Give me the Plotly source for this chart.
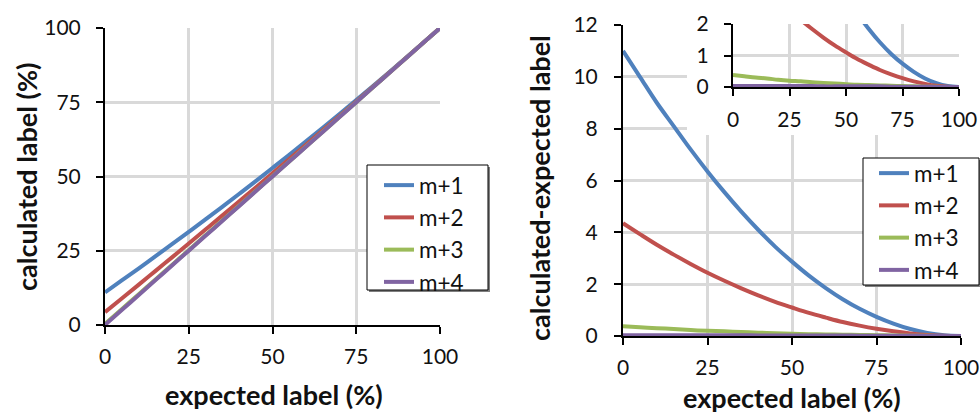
import plotly.graph_objects as go

# expected label (%)
expected = [0, 5, 10, 15, 20, 25, 30, 35, 40, 45, 50, 55, 60, 65, 70, 75, 80, 85, 90, 95, 100]

# calculated - expected label, per isotopologue
series_names = ["m+1", "m+2", "m+3", "m+4"]
diff_m1 = [11.0, 10.0, 9.0, 8.1, 7.2, 6.35, 5.55, 4.8, 4.1, 3.45, 2.87, 2.33, 1.85, 1.42, 1.05, 0.74, 0.48, 0.27, 0.12, 0.03, 0.0]
diff_m2 = [4.35, 3.93, 3.52, 3.14, 2.78, 2.44, 2.13, 1.84, 1.57, 1.32, 1.10, 0.89, 0.71, 0.54, 0.40, 0.28, 0.18, 0.10, 0.04, 0.01, 0.0]
diff_m3 = [0.38, 0.34, 0.30, 0.27, 0.23, 0.20, 0.18, 0.15, 0.13, 0.11, 0.09, 0.07, 0.06, 0.05, 0.04, 0.03, 0.02, 0.01, 0.005, 0.0, 0.0]
diff_m4 = [0.03, 0.03, 0.03, 0.03, 0.03, 0.03, 0.03, 0.03, 0.02, 0.02, 0.02, 0.02, 0.02, 0.02, 0.01, 0.01, 0.01, 0.01, 0.0, 0.0, 0.0]

x_ticks = [0, 25, 50, 75, 100]
left_y_ticks = [0, 25, 50, 75, 100]
right_y_ticks = [0, 2, 4, 6, 8, 10, 12]
inset_y_ticks = [0, 1, 2]

colors = ["#4F81BD", "#C0504D", "#9BBB59", "#8064A2"]
diffs = [diff_m1, diff_m2, diff_m3, diff_m4]

W, H = 980, 414
FONT = "Lato"
GRID = "#d9d9d9"
TXT = "#111111"


def px_x(p):
    return p / W


def px_y(p):
    return 1 - p / H


fig = go.Figure()

# left panel: calculated vs expected label
for name, col, d in zip(series_names, colors, diffs):
    calc = [e + v for e, v in zip(expected, d)]
    fig.add_trace(go.Scatter(x=expected, y=calc, mode="lines", name=name,
                             line=dict(color=col, width=4, shape="spline"),
                             xaxis="x", yaxis="y", legend="legend"))
# right panel: deviation from expected
for name, col, d in zip(series_names, colors, diffs):
    fig.add_trace(go.Scatter(x=expected, y=d, mode="lines", name=name,
                             line=dict(color=col, width=4, shape="spline"),
                             xaxis="x2", yaxis="y2", legend="legend2"))
# blank white panel that holds the inset (hides the main grid under it)
fig.add_trace(go.Scatter(x=[None], y=[None], xaxis="x3", yaxis="y3",
                         showlegend=False, hoverinfo="skip"))
# inset: zoom on the 0-2 range
for name, col, d in zip(series_names, colors, diffs):
    fig.add_trace(go.Scatter(x=expected, y=d, mode="lines", name=name,
                             line=dict(color=col, width=4, shape="spline"),
                             xaxis="x4", yaxis="y4", showlegend=False))

axis_common = dict(showline=True, linecolor="black", linewidth=2,
                   ticks="outside", ticklen=7, tickwidth=2, tickcolor="black",
                   showgrid=True, gridcolor=GRID, gridwidth=3, zeroline=False,
                   ticklabeloverflow="allow", automargin=False,
                   tickfont=dict(family=FONT, size=21, color=TXT), fixedrange=True)

legend_common = dict(xanchor="left", yanchor="top", borderwidth=0,
                     bgcolor="rgba(0,0,0,0)",
                     font=dict(family=FONT, size=22.5, color=TXT), itemwidth=30,
                     tracegroupgap=0)

fig.update_layout(
    width=W, height=H,
    margin=dict(l=0, r=0, t=0, b=0, autoexpand=False),
    paper_bgcolor="white", plot_bgcolor="white",
    font=dict(family=FONT, color=TXT),
    xaxis=dict(domain=[px_x(105), px_x(440)], range=[0, 100], tickvals=x_ticks,
               anchor="y", ticklabelstandoff=5, **axis_common),
    yaxis=dict(domain=[px_y(325), px_y(28)], range=[0, 100], tickvals=left_y_ticks,
               anchor="x", ticklabelstandoff=11, **axis_common),
    xaxis2=dict(domain=[px_x(623), px_x(961)], range=[0, 100], tickvals=x_ticks,
                anchor="y2", ticklabelstandoff=5, **axis_common),
    yaxis2=dict(domain=[px_y(336), px_y(25)], range=[0, 12], tickvals=right_y_ticks,
                anchor="x2", ticklabelstandoff=12, **axis_common),
    xaxis3=dict(domain=[px_x(687), 1.0], visible=False, anchor="y3", fixedrange=True),
    yaxis3=dict(domain=[px_y(135), 1.0], visible=False, anchor="x3", fixedrange=True),
    xaxis4=dict(domain=[px_x(733), px_x(959)], range=[0, 100], tickvals=x_ticks,
                anchor="y4", ticklabelstandoff=6, **axis_common),
    yaxis4=dict(domain=[px_y(87), px_y(24)], range=[0, 2], tickvals=inset_y_ticks,
                anchor="x4", ticklabelstandoff=11, **axis_common),
    legend=dict(x=px_x(379), y=px_y(164), **legend_common),
    legend2=dict(x=px_x(874), y=px_y(152), **legend_common),
    showlegend=True,
)

# legend frames with a soft drop shadow
for x0, y0, x1, y1 in [(367, 165, 488, 290), (863, 158, 979, 285)]:
    fig.add_shape(type="rect", xref="paper", yref="paper",
                  x0=px_x(x0 + 2), x1=px_x(x1 + 2), y0=px_y(y1 + 2), y1=px_y(y0 + 2),
                  fillcolor="#7f7f7f", line_width=0, layer="above")
    fig.add_shape(type="rect", xref="paper", yref="paper",
                  x0=px_x(x0), x1=px_x(x1), y0=px_y(y1), y1=px_y(y0),
                  fillcolor="white", line=dict(color="black", width=1), layer="above")

title_font = dict(family=FONT, size=27, color=TXT, weight="bold")
fig.add_annotation(text="expected label (%)", x=px_x(274), y=px_y(394), xref="paper", yref="paper",
                   showarrow=False, font=title_font, xanchor="center", yanchor="middle")
fig.add_annotation(text="expected label (%)", x=px_x(792), y=px_y(397), xref="paper", yref="paper",
                   showarrow=False, font=title_font, xanchor="center", yanchor="middle")
fig.add_annotation(text="calculated label (%)", x=px_x(26), y=px_y(177), xref="paper", yref="paper",
                   showarrow=False, font=title_font, textangle=-90, xanchor="center", yanchor="middle")
fig.add_annotation(text="calculated-expected label", x=px_x(539), y=px_y(188), xref="paper", yref="paper",
                   showarrow=False, font=title_font, textangle=-90, xanchor="center", yanchor="middle")

fig.write_html("out.html")
